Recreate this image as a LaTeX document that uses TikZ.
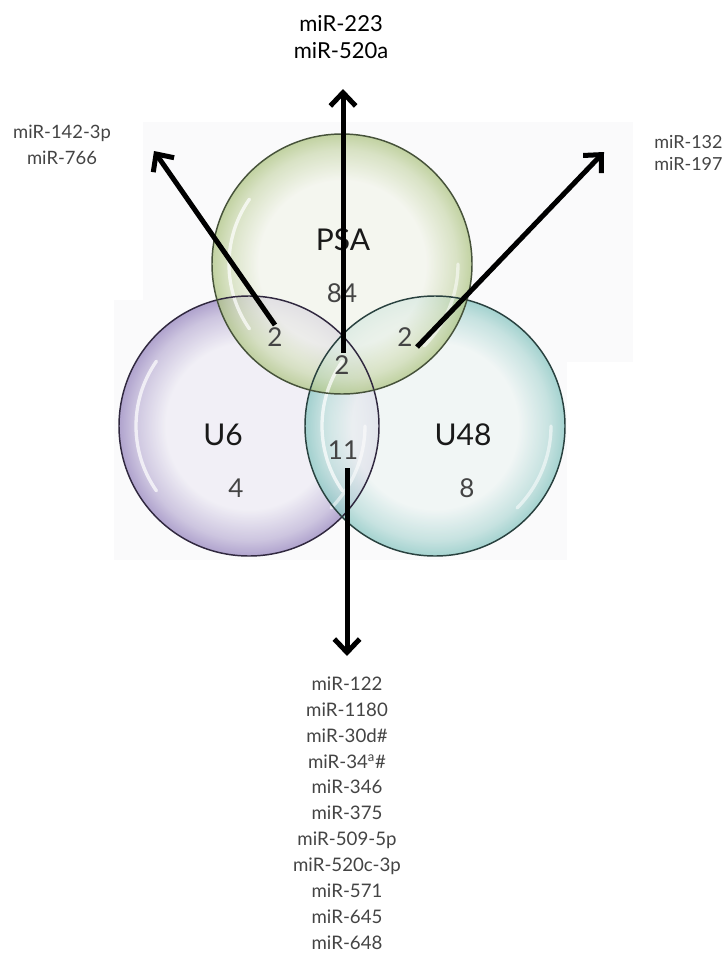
\documentclass[tikz,border=0pt]{standalone}
\usepackage{fontspec}
\setmainfont{Lato}
\usetikzlibrary{arrows.meta}
\definecolor{psain}{HTML}{F3F5EC}
\definecolor{psarim}{HTML}{AFC584}
\definecolor{psaline}{HTML}{46523A}
\definecolor{usixin}{HTML}{EFEDF5}
\definecolor{usixrim}{HTML}{9D8DC2}
\definecolor{usixline}{HTML}{30283F}
\definecolor{ufoin}{HTML}{EFF5F4}
\definecolor{uforim}{HTML}{8FC9C5}
\definecolor{ufoline}{HTML}{29413F}
\definecolor{bgfaint}{HTML}{FAFAFB}
\definecolor{lblgray}{HTML}{444444}
\pgfdeclareradialshading[psain,psarim]{psash}{\pgfpoint{0bp}{0bp}}{color(0bp)=(psain);color(16bp)=(psain);color(22bp)=(psarim!55!psain);color(25bp)=(psarim);color(50bp)=(psarim)}
\pgfdeclareradialshading[usixin,usixrim]{usixsh}{\pgfpoint{0bp}{0bp}}{color(0bp)=(usixin);color(16bp)=(usixin);color(22bp)=(usixrim!55!usixin);color(25bp)=(usixrim);color(50bp)=(usixrim)}
\pgfdeclareradialshading[ufoin,uforim]{ufosh}{\pgfpoint{0bp}{0bp}}{color(0bp)=(ufoin);color(16bp)=(ufoin);color(22bp)=(uforim!55!ufoin);color(25bp)=(uforim);color(50bp)=(uforim)}
\tikzset{
  setname/.style={text=black!90, font=\fontsize{22.5}{26}\selectfont, inner sep=0pt},
  countlbl/.style={text=lblgray, font=\fontsize{19.5}{23}\selectfont, inner sep=0pt},
  mirlbl/.style={text=lblgray, align=center, inner sep=0pt, font=\fontsize{13.8}{19.5}\selectfont},
  toplbl/.style={text=black, align=center, inner sep=0pt, font=\fontsize{16.5}{20.2}\selectfont},
  bigarrow/.style={line width=3.75pt, -{Straight Barb[length=10pt,width=19pt]}, black},
  bubbleedge/.style={line width=1.1pt},
  shine/.style={white, line width=2.5pt, line cap=round, opacity=0.7}
}
\begin{document}
\begin{tikzpicture}[x=0.75pt,y=-0.75pt]
\useasboundingbox (0,0) rectangle (725,953);
% faint background
\fill[bgfaint] (143,122) rectangle (633,362);
\fill[bgfaint] (114,300) rectangle (567,560);
% bubbles
\shade[shading=usixsh, opacity=0.8] (249,426) circle [radius=130];
\shade[shading=ufosh, opacity=0.8] (435,426) circle [radius=130];
\shade[shading=psash, opacity=0.75] (342,264) circle [radius=130];
% shine
\draw[shine] (249,426) ++(145:113) arc (145:215:113);
\draw[shine] (435,426) ++(145:113) arc (145:215:113);
\draw[shine] (342,264) ++(145:113) arc (145:215:113);
\draw[shine, opacity=0.55] (249,426) ++(0:116) arc (0:45:116);
\draw[shine, opacity=0.55] (435,426) ++(0:116) arc (0:45:116);
\draw[shine, opacity=0.55] (342,264) ++(0:116) arc (0:45:116);
% outlines
\draw[bubbleedge, usixline] (249,426) circle [radius=130];
\draw[bubbleedge, ufoline] (435,426) circle [radius=130];
\draw[bubbleedge, psaline] (342,264) circle [radius=130];
% set names and counts
\node[setname] (psa) at (343,240) {PSA};
\node[setname] (usix) at (223,435) {U6};
\node[setname] (ufo) at (463,435) {U48};
\node[countlbl] (npsa) at (342,293) {84};
\node[countlbl] (nusix) at (236,488) {4};
\node[countlbl] (nufo) at (467,488) {8};
\node[countlbl] (npu) at (275,337) {2};
\node[countlbl] (npf) at (405,337) {2};
\node[countlbl] (nall) at (342,365) {2};
\node[countlbl] (nuu) at (343,450) {11};
% miRNA lists
\node[toplbl] (tops) at (341,37) {miR-223\\miR-520a};
\node[mirlbl] (lefts) at (62,145) {miR-142-3p\\miR-766};
\node[mirlbl, align=left, anchor=west, font=\fontsize{13.5}{16.5}\selectfont] (rights) at (654,153) {miR-132\\miR-197};
\node[mirlbl, font=\fontsize{14}{19.4}\selectfont] (bots) at (347,813) {miR-122\\miR-1180\\miR-30d\#\\miR-34\textsuperscript{a}\#\\miR-346\\miR-375\\miR-509-5p\\miR-520c-3p\\miR-571\\miR-645\\miR-648};
% arrows
\coordinate (upA) at (343,353);
\coordinate (upB) at (343,89);
\coordinate (lfA) at (275,325);
\coordinate (lfB) at (154,151);
\coordinate (rtA) at (417,347);
\coordinate (rtB) at (604,152);
\coordinate (dnA) at (347,468);
\coordinate (dnB) at (347,656);
\draw[bigarrow] (upA) -- (upB);
\draw[bigarrow] (lfA) -- (lfB);
\draw[bigarrow] (rtA) -- (rtB);
\draw[bigarrow] (dnA) -- (dnB);
\end{tikzpicture}
\end{document}
